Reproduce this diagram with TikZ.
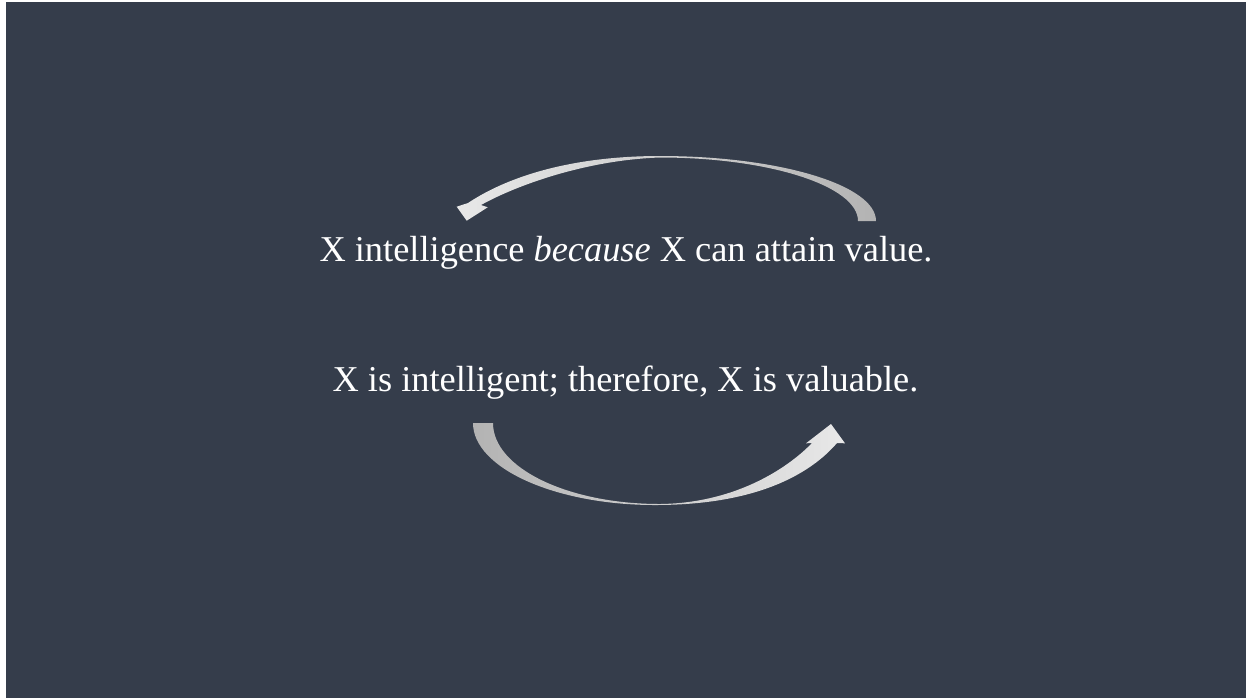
\documentclass[tikz,border=0pt]{standalone}
\usepackage{fontspec}
\setmainfont{Liberation Serif}
\usepackage{xcolor}
\usetikzlibrary{positioning}
\definecolor{slBack}{HTML}{353D4B}
\definecolor{slHead}{HTML}{E8E8E8}
\definecolor{slTail}{HTML}{B3B3B3}
\tikzset{
  claim/.style={text=white, font=\fontsize{20.7}{24}\selectfont, inner sep=0pt, anchor=base},
  loopL/.style={left color=slHead, right color=slTail, draw=none},
  loopR/.style={left color=slTail, right color=slHead, draw=none},
}

\begin{document}
\begin{tikzpicture}[x=0.02cm,y=-0.02cm]
        \useasboundingbox (0,0) rectangle (1247,698);
        \fill[white] (0,0) rectangle (1247,698);
        \fill[slBack] (6,2) rectangle (1246,698);
        % the two claims
        \node[claim] (cause) at (626,261.7) {X intelligence \textit{because} X can attain value.};
        \node[claim] (effect) at (625.5,391.7) {X is intelligent; therefore, X is valuable.};
        % upper arrow: tail on the right, head on the left
        \shade[loopL] (876,221) .. controls (876,185) and (779,156) .. (660,156)
            .. controls (575,156) and (510,175) .. (468,203)
            -- (456.7,206.7) -- (466.7,220.7) -- (487.7,207.3) -- (481,205)
            .. controls (515,186) and (585,160) .. (660,157.5)
            .. controls (769,157.5) and (858,186) .. (858,221) -- cycle;
        % lower arrow: tail on the left, head on the right
        \shade[loopR] (473,423) .. controls (473,468) and (555,505) .. (655,505)
            .. controls (760,505) and (812,472) .. (837,443)
            -- (845,443.3) -- (831,424) -- (806,443.3) -- (812,443)
            .. controls (792,464) and (740,503) .. (660,504)
            .. controls (568,504) and (493,468) .. (493,423) -- cycle;
    \end{tikzpicture}
\end{document}
